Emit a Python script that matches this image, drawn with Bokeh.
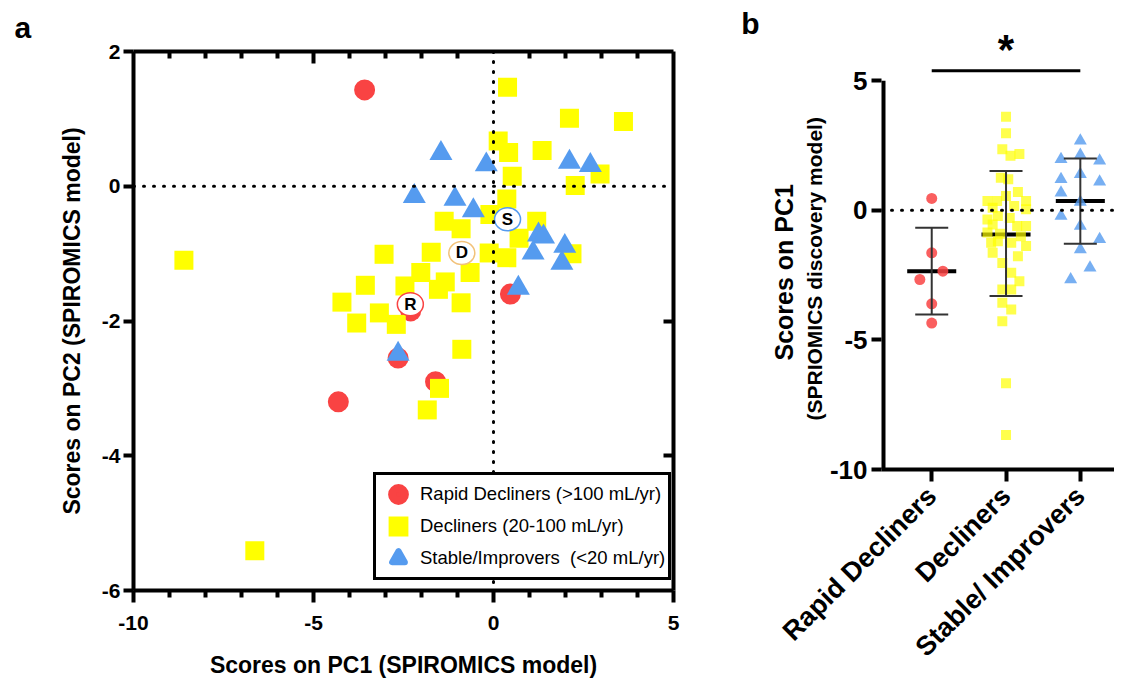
import math
from bokeh.plotting import figure
from bokeh.models import (FixedTicker, Span, Legend, LegendItem, ColumnDataSource,
                          Range1d, LinearAxis, Whisker, TeeHead, Title)
from bokeh.layouts import row
from bokeh.embed import file_html
from bokeh.resources import INLINE
from bokeh.core.properties import value

FONT = "Liberation Sans"
RED = "#F94343"
YEL = "#FFFF00"
BLU = "#559BEF"
AXW = 4
NAN = float("nan")

# ---------------- Panel a data ----------------
rapid_pc1 = [-3.58, 0.47, -2.65, -1.61, -4.31, -2.30]
rapid_pc2 = [1.43, -1.60, -2.55, -2.90, -3.20, -1.85]

decl_pc1 = [0.39, 2.11, 3.61, 0.13, 0.42, 1.35, 0.52, 2.96, 2.27, 0.37, -8.60, -1.37,
            -0.90, -0.10, 1.20, 0.71, -3.04, -1.73, -0.12, 0.37, 2.18, -0.65, -2.02,
            -1.34, -1.53, -3.56, -2.46, -4.21, -3.17, -0.90, -3.80, -2.70, -0.88,
            -1.50, -1.84, -6.63]
decl_pc2 = [1.47, 1.01, 0.96, 0.67, 0.50, 0.53, 0.15, 0.18, 0.01, -0.19, -1.10, -0.52,
            -0.63, -0.42, -0.52, -0.77, -1.01, -0.98, -0.99, -1.06, -1.00, -1.28, -1.28,
            -1.42, -1.53, -1.47, -1.48, -1.72, -1.88, -1.73, -2.03, -2.05, -2.42,
            -3.00, -3.32, -5.41]

stab_pc1 = [-1.46, -0.20, 2.11, 2.69, -2.20, -1.07, -0.56, 1.25, 1.39, 1.10, 1.98, 1.90,
            0.69, -2.65]
stab_pc2 = [0.49, 0.32, 0.36, 0.31, -0.15, -0.19, -0.36, -0.72, -0.75, -0.99, -0.89,
            -1.14, -1.51, -2.49]

centroid_labels = ["R", "D", "S"]
centroid_pc1 = [-2.31, -0.88, 0.39]
centroid_pc2 = [-1.75, -0.99, -0.49]
centroid_colors = [RED, "#F2C27A", BLU]

legend_labels = ["Rapid Decliners (>100 mL/yr)", "Decliners (20-100 mL/yr)",
                 "Stable/Improvers  (<20 mL/yr)"]

pc1_ticks = [-10, -5, 0, 5]
pc1_minor = [-9, -8, -7, -6, -4, -3, -2, -1, 1, 2, 3, 4]
pc2_ticks = [-6, -4, -2, 0, 2]

# ---------------- Panel b data ----------------
groups = ["Rapid Decliners", "Decliners", "Stable/ Improvers"]
rapid_jit = [0.0, 0.0, 0.15, -0.16, 0.0, 0.0]
rapid_b = [0.46, -1.64, -2.35, -2.67, -3.61, -4.35]

decl_jit = [0.0, 0.0, -0.05, 0.06, 0.18, -0.07, 0.03, 0.16, -0.25, -0.12, 0.0, 0.27,
            0.11, -0.18, 0.27, -0.25, -0.11, 0.05, 0.15, 0.27, -0.25, -0.08, -0.11,
            0.07, 0.27, -0.18, 0.16, -0.05, 0.07, 0.18, -0.05, 0.07, -0.05, 0.07,
            -0.05, 0.0, 0.0, -0.18, 0.20, -0.20]
decl_b = [3.61, 2.97, 2.36, 2.10, 2.17, 1.26, 1.20, 0.71, 0.36, 0.36, 0.55, 0.36,
          0.17, 0.10, 0.04, -0.35, -0.22, -0.30, -0.61, -0.61, -0.86, -0.90, -1.19,
          -1.25, -1.38, -1.64, -1.77, -2.03, -2.41, -2.74, -3.06, -3.06, -3.57, -3.83,
          -4.28, -6.67, -8.67, -0.55, -1.00, -1.25]

stab_jit = [0.0, -0.26, 0.0, 0.26, -0.26, 0.0, 0.26, -0.26, 0.0, -0.26, 0.0, 0.26,
            0.0, 0.13, -0.13]
stab_b = [2.68, 1.97, 2.13, 1.91, 1.20, 1.39, 1.10, 0.68, 0.32, -0.22, -0.61, -1.12,
          -1.51, -2.22, -2.67]

group_mean = [-2.35, -0.93, 0.36]
group_sd_hi = [-0.67, 1.52, 2.00]
group_sd_lo = [-4.02, -3.31, -1.29]

b_ticks = [-10, -5, 0, 5]

sig_pair = [0, 2]
sig_bar_y = 5.38
sig_star_y = 6.2
sig_text = "*"

panel_b_tag_y = 7.22


def hy(ticks):
    return {t: str(t) for t in ticks}


def style_axis(ax, size):
    ax.axis_line_width = AXW
    ax.axis_line_color = "black"
    ax.major_tick_line_width = AXW
    ax.minor_tick_line_width = AXW
    ax.major_tick_line_color = "black"
    ax.minor_tick_line_color = "black"
    ax.major_label_text_font = FONT
    ax.major_label_text_font_style = "bold"
    ax.major_label_text_font_size = size
    ax.major_label_text_color = "black"
    ax.axis_label_text_font = FONT
    ax.axis_label_text_font_style = "bold"
    ax.axis_label_text_color = "black"


# ================= Panel a =================
pa = figure(width=706, height=684, x_range=Range1d(-10, 5), y_range=Range1d(-6, 2),
            output_backend="svg", toolbar_location=None,
            min_border_left=133, min_border_right=33, min_border_top=51, min_border_bottom=94)
pa.frame_align = False
pa.outline_line_color = None
pa.grid.visible = False

xa = pa.xaxis[0]
style_axis(xa, "21px")
xa.ticker = FixedTicker(ticks=pc1_ticks, minor_ticks=pc1_minor)
xa.major_label_overrides = hy(pc1_ticks)
xa.major_tick_out = 12
xa.major_tick_in = 0
xa.minor_tick_out = 7
xa.minor_tick_in = 0
xa.major_label_standoff = 13
xa.axis_label = "Scores on PC1 (SPIROMICS model)"
xa.axis_label_text_font_size = "23px"
xa.axis_label_standoff = 19

ya = pa.yaxis[0]
style_axis(ya, "21px")
ya.ticker = FixedTicker(ticks=pc2_ticks, minor_ticks=[])
ya.major_label_overrides = hy(pc2_ticks)
ya.major_tick_out = 10
ya.major_tick_in = 0
ya.major_label_standoff = 3
ya.axis_label = "Scores on PC2 (SPIROMICS model)"
ya.axis_label_text_font_size = "23px"
ya.axis_label_standoff = 14

top_ax = LinearAxis(ticker=FixedTicker(ticks=[-5], minor_ticks=pc1_minor))
style_axis(top_ax, "2px")
top_ax.major_label_text_color = None
top_ax.major_tick_in = 12
top_ax.major_tick_out = 0
top_ax.minor_tick_in = 7
top_ax.minor_tick_out = 0
top_ax.major_label_standoff = 0
pa.add_layout(top_ax, "above")

right_ax = LinearAxis(ticker=FixedTicker(ticks=[-4, -2], minor_ticks=[]))
style_axis(right_ax, "2px")
right_ax.major_label_text_color = None
right_ax.major_tick_in = 10
right_ax.major_tick_out = 0
right_ax.major_label_standoff = 0
pa.add_layout(right_ax, "right")

pa.add_layout(Title(text="a", align="left", offset=-119, standoff=16, text_font=FONT,
                    text_font_style="bold", text_font_size="30px", text_color="black"), "above")

pa.scatter(rapid_pc1, rapid_pc2, marker="circle", size=21, fill_color=RED, line_color=None)
pa.scatter(decl_pc1, decl_pc2, marker="square", size=19, fill_color=YEL, line_color=None)
pa.scatter(stab_pc1, stab_pc2, marker="triangle", size=23, fill_color=BLU, line_color=None)

# legend keys (NaN positions: never drawn in the plot, they only style the legend swatches)
k_red = pa.scatter([NAN], [NAN], marker="circle", size=21, fill_color=RED, line_color=RED,
                   line_width=8)
k_yel = pa.scatter([NAN], [NAN], marker="square", size=19, fill_color=YEL, line_color=YEL,
                   line_width=7, line_join="miter")
k_blu = pa.scatter([NAN], [NAN], marker="triangle", size=23, fill_color=BLU, line_color=BLU,
                   line_width=6, line_join="round")

csrc = ColumnDataSource(dict(x=centroid_pc1, y=centroid_pc2, t=centroid_labels, c=centroid_colors))
pa.ellipse(x="x", y="y", width=26, height=23, width_units="screen", height_units="screen",
           fill_color="white", line_color="c", line_width=1.5, source=csrc)
pa.text(x="x", y="y", text="t", source=csrc, text_font=value(FONT), text_font_style="bold",
        text_font_size="17px", text_align="center", text_baseline="middle", text_color="black")

pa.add_layout(Span(location=0, dimension="width", line_color="black", line_width=3,
                   line_dash="1 9", line_cap="round"))
pa.add_layout(Span(location=0, dimension="height", line_color="black", line_width=3,
                   line_dash="1 9", line_cap="round"))

leg = Legend(items=[LegendItem(label=legend_labels[0], renderers=[k_red]),
                    LegendItem(label=legend_labels[1], renderers=[k_yel]),
                    LegendItem(label=legend_labels[2], renderers=[k_blu])],
             location=(240, 10))
leg.label_text_font = FONT
leg.label_text_font_size = "18.5px"
leg.label_text_color = "black"
leg.glyph_width = 38
leg.glyph_height = 32
leg.label_height = 20
leg.spacing = 0
leg.padding = 3
leg.margin = 0
leg.label_standoff = 3
leg.border_line_color = "black"
leg.border_line_alpha = 1.0
leg.border_line_width = 3
leg.background_fill_color = "white"
leg.background_fill_alpha = 1.0
pa.add_layout(leg, "center")

# ================= Panel b =================
pb = figure(width=408, height=684, x_range=Range1d(-0.676, 2.46), y_range=Range1d(-10, 7.4),
            output_backend="svg", toolbar_location=None,
            min_border_left=175, min_border_right=0, min_border_top=18, min_border_bottom=215)
pb.frame_align = False
pb.outline_line_color = None
pb.grid.visible = False

yb = pb.yaxis[0]
style_axis(yb, "26px")
yb.ticker = FixedTicker(ticks=b_ticks, minor_ticks=[])
yb.major_label_overrides = hy(b_ticks)
yb.axis_line_color = None
yb.major_tick_out = 10
yb.major_tick_in = 0
yb.major_label_standoff = 4

xb = pb.xaxis[0]
style_axis(xb, "27px")
xb.ticker = FixedTicker(ticks=[0, 1, 2], minor_ticks=[])
xb.major_label_overrides = {i: g for i, g in enumerate(groups)}
xb.major_label_orientation = math.pi / 4
xb.major_tick_out = 12
xb.major_tick_in = 0
xb.major_label_standoff = 10

t2 = Title(text="(SPRIOMICS discovery model)", align="left", offset=49, standoff=2,
           text_font=FONT, text_font_style="bold", text_font_size="21px", text_color="black")
t1 = Title(text="Scores on PC1", align="left", offset=109, standoff=4,
           text_font=FONT, text_font_style="bold", text_font_size="25px", text_color="black")
pb.add_layout(t2, "left")
pb.add_layout(t1, "left")

# panel tag "b" as the label of an otherwise invisible outer axis
tag_ax = LinearAxis(ticker=FixedTicker(ticks=[panel_b_tag_y], minor_ticks=[]),
                    major_label_overrides={panel_b_tag_y: "b"})
tag_ax.axis_line_color = None
tag_ax.major_tick_line_color = None
tag_ax.minor_tick_line_color = None
tag_ax.major_tick_out = 0
tag_ax.major_tick_in = 0
tag_ax.major_label_standoff = 6
tag_ax.major_label_text_font = FONT
tag_ax.major_label_text_font_style = "bold"
tag_ax.major_label_text_font_size = "30px"
tag_ax.major_label_text_color = "black"
pb.add_layout(tag_ax, "left")

# left axis line ending at the top tick
pb.segment(x0=[pb.x_range.start], x1=[pb.x_range.start], y0=[min(b_ticks)], y1=[max(b_ticks)],
           line_width=2 * AXW, line_color="black")

pb.add_layout(Span(location=0, dimension="width", line_color="black", line_width=3,
                   line_dash="1 9", line_cap="round"))

idx = list(range(len(groups)))
stats = ColumnDataSource(dict(x=idx, m=group_mean, hi=group_sd_hi, lo=group_sd_lo,
                              x0=[i - 0.33 for i in idx], x1=[i + 0.33 for i in idx]))
pb.add_layout(Whisker(base="x", upper="hi", lower="lo", source=stats, dimension="height",
                      line_color="#333333", line_width=2,
                      upper_head=TeeHead(size=33, line_color="#333333", line_width=2),
                      lower_head=TeeHead(size=33, line_color="#333333", line_width=2),
                      level="glyph"))
pb.segment(x0="x0", x1="x1", y0="m", y1="m", source=stats, line_width=4, line_color="black")

pb.scatter([0 + j for j in rapid_jit], rapid_b, marker="circle", size=11,
           fill_color=RED, fill_alpha=0.85, line_color=None)
pb.scatter([1 + j for j in decl_jit], decl_b, marker="square", size=10,
           fill_color=YEL, fill_alpha=0.7, line_color=None)
pb.scatter([2 + j for j in stab_jit], stab_b, marker="triangle", size=13,
           fill_color=BLU, fill_alpha=0.8, line_color=None)

pb.segment(x0=[sig_pair[0]], x1=[sig_pair[1]], y0=[sig_bar_y], y1=[sig_bar_y],
           line_width=3, line_color="black")
pb.text(x=[(sig_pair[0] + sig_pair[1]) / 2], y=[sig_star_y], text=[sig_text],
        text_font=value(FONT), text_font_style="bold", text_font_size="42px",
        text_align="center", text_baseline="middle", text_color="black")

layout = row(pa, pb)
open("out.html", "w").write(file_html(layout, INLINE))
